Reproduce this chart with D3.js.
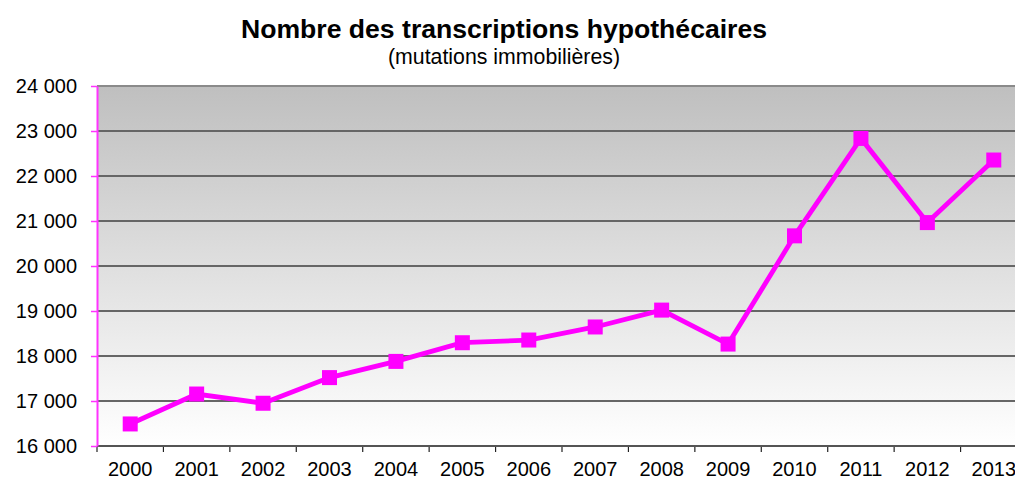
<!DOCTYPE html>
<html>
<head>
<meta charset="utf-8">
<script src="https://cdn.jsdelivr.net/npm/d3@7"></script>
<style>
  body { margin: 0; background: #fff; }
  text { font-family: "Liberation Sans", Arial, sans-serif; fill: #000; }
</style>
</head>
<body>
<div id="plot"></div>
<script>
// Chart data
var years = ["2000", "2001", "2002", "2003", "2004", "2005", "2006",
             "2007", "2008", "2009", "2010", "2011", "2012", "2013"];
var transcriptions = [16490, 17155, 16950, 17520, 17880, 18295, 18355,
                      18645, 19020, 18265, 20670, 22835, 20965, 22355];
var yTicks = [16000, 17000, 18000, 19000, 20000, 21000, 22000, 23000, 24000];

var titleText = "Nombre des transcriptions hypothécaires";
var subtitleText = "(mutations immobilières)";

// SVG area
var svgWidth = 1015;
var svgHeight = 480;

// plot area (right edge runs off the picture like the original)
var margin = { top: 86, left: 97, bottom: 34 };
var plotRight = 1027;
var plotBottom = svgHeight - margin.bottom;

var svg = d3.select("#plot")
  .append("svg")
  .attr("width", svgWidth)
  .attr("height", svgHeight);

// scales
var xBandScale = d3.scaleBand()
  .domain(years)
  .range([margin.left, plotRight])
  .padding(0);

var yLinearScale = d3.scaleLinear()
  .domain([16000, 24000])
  .range([plotBottom, margin.top]);

var frLocale = d3.formatLocale({ decimal: ",", thousands: "\u00a0", grouping: [3], currency: ["", " €"] });
var numFormat = frLocale.format(",d");

// background gradient
var defs = svg.append("defs");
var grad = defs.append("linearGradient")
  .attr("id", "bg")
  .attr("x1", 0).attr("y1", 0)
  .attr("x2", 0).attr("y2", 1);
grad.append("stop").attr("offset", "0%").attr("stop-color", "#bfbfbf");
grad.append("stop").attr("offset", "100%").attr("stop-color", "#ffffff");

svg.append("rect")
  .attr("x", margin.left)
  .attr("y", margin.top)
  .attr("width", plotRight - margin.left)
  .attr("height", plotBottom - margin.top)
  .attr("fill", "url(#bg)");

// gridlines
svg.append("g")
  .selectAll("line")
  .data(yTicks.slice(1))
  .enter()
  .append("line")
  .attr("x1", margin.left)
  .attr("x2", plotRight)
  .attr("y1", d => yLinearScale(d))
  .attr("y2", d => yLinearScale(d))
  .attr("stroke", d => d === 24000 ? "#8a8a8a" : "#666")
  .attr("stroke-width", 2);

// bottom axis (labels centred on band, ticks on band edges)
var bottomAxis = d3.axisBottom(xBandScale).tickSize(0).tickPadding(16);
var xAxisGroup = svg.append("g")
  .attr("transform", "translate(0," + plotBottom + ")")
  .call(bottomAxis);
xAxisGroup.select(".domain").remove();
xAxisGroup.selectAll("text")
  .style("font-size", "20px")
  .style("font-family", "'Liberation Sans', Arial, sans-serif");

svg.append("g")
  .selectAll("line")
  .data(years)
  .enter()
  .append("line")
  .attr("x1", d => xBandScale(d))
  .attr("x2", d => xBandScale(d))
  .attr("y1", plotBottom)
  .attr("y2", plotBottom + 6)
  .attr("stroke", "#222")
  .attr("stroke-width", 1.2);

svg.append("line")
  .attr("x1", margin.left)
  .attr("x2", plotRight)
  .attr("y1", plotBottom)
  .attr("y2", plotBottom)
  .attr("stroke", "#555")
  .attr("stroke-width", 2);

// left axis in magenta
var leftAxis = d3.axisLeft(yLinearScale)
  .tickValues(yTicks)
  .tickFormat(numFormat)
  .tickSize(6)
  .tickPadding(14)
  .tickSizeOuter(0);
var yAxisGroup = svg.append("g")
  .attr("transform", "translate(" + margin.left + ",0)")
  .call(leftAxis);
yAxisGroup.select(".domain").attr("stroke", "#ff33ff").attr("stroke-width", 2);
yAxisGroup.selectAll(".tick line").attr("stroke", "#ff33ff").attr("stroke-width", 1.5);
yAxisGroup.selectAll("text")
  .style("font-size", "20px")
  .style("font-family", "'Liberation Sans', Arial, sans-serif")
  .attr("fill", "#000");

// line
var drawLine = d3.line()
  .x((d, i) => xBandScale(years[i]) + xBandScale.bandwidth() / 2)
  .y(d => yLinearScale(d));

svg.append("path")
  .attr("d", drawLine(transcriptions))
  .attr("fill", "none")
  .attr("stroke", "#ff00ff")
  .attr("stroke-width", 4.8)
  .attr("stroke-linejoin", "miter");

// square markers
var markerSize = 15;
svg.append("g")
  .selectAll("rect")
  .data(transcriptions)
  .enter()
  .append("rect")
  .attr("x", (d, i) => xBandScale(years[i]) + xBandScale.bandwidth() / 2 - markerSize / 2)
  .attr("y", d => yLinearScale(d) - markerSize / 2)
  .attr("width", markerSize)
  .attr("height", markerSize)
  .attr("fill", "#ff00ff");

// titles
svg.append("text")
  .attr("x", 504)
  .attr("y", 38)
  .attr("text-anchor", "middle")
  .style("font-size", "26.6px")
  .style("font-weight", "bold")
  .text(titleText);

svg.append("text")
  .attr("x", 504)
  .attr("y", 64)
  .attr("text-anchor", "middle")
  .style("font-size", "21.3px")
  .text(subtitleText);
</script>
</body>
</html>
